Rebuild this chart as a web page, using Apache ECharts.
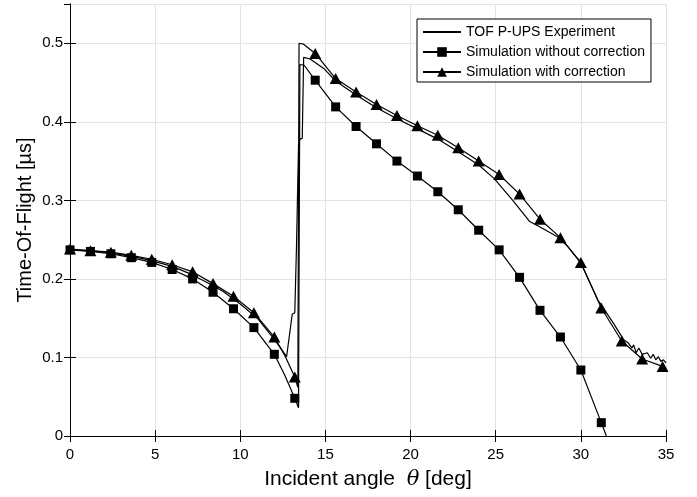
<!DOCTYPE html>
<html>
<head>
<meta charset="utf-8">
<script src="https://cdn.jsdelivr.net/npm/echarts@6/dist/echarts.min.js"></script>
<style>
  html, body { margin: 0; padding: 0; background: #fff; }
  #chart { width: 697px; height: 497px; }
</style>
</head>
<body>
<div id="chart"></div>
<script>
// TOF P-UPS experiment (line only)
const expX = [0, 1, 2, 3, 4, 5, 6, 7, 8, 9, 10, 11, 12, 12.4, 12.72, 13.05, 13.2, 13.3, 13.42, 13.5, 13.64, 13.72,
  14.1, 14.9, 15.6, 16.8, 18, 19.2, 20.4, 21.6, 22.8, 24, 24.9, 26, 27, 27.6, 28.6, 29.2, 30, 31, 31.9, 32.5,
  32.8, 33.0, 33.1, 33.25, 33.4, 33.6, 33.9, 34.1, 34.25, 34.4, 34.55, 34.7, 34.85, 35]
const expY = [0.237, 0.236, 0.234, 0.231, 0.227, 0.222, 0.216, 0.207, 0.196, 0.184, 0.168, 0.150, 0.123, 0.111, 0.101, 0.155, 0.157, 0.241, 0.370, 0.378, 0.379, 0.482,
  0.480, 0.468, 0.452, 0.434, 0.418, 0.404, 0.391, 0.378, 0.362, 0.345, 0.328, 0.300, 0.273, 0.266, 0.254, 0.242, 0.220, 0.173, 0.144, 0.123,
  0.118, 0.112, 0.116, 0.106, 0.112, 0.104, 0.106, 0.099, 0.104, 0.097, 0.101, 0.095, 0.097, 0.093]

// Simulation without correction: marker points and extra curve points
const noCorrMarkX = [0, 1.2, 2.4, 3.6, 4.8, 6.0, 7.2, 8.4, 9.6, 10.8, 12.0, 13.2,
  14.4, 15.6, 16.8, 18.0, 19.2, 20.4, 21.6, 22.8, 24.0, 25.2, 26.4, 27.6, 28.8, 30.0, 31.2]
const noCorrMarkY = [0.237, 0.235, 0.232, 0.227, 0.221, 0.212, 0.200, 0.183, 0.162, 0.138, 0.104, 0.048,
  0.453, 0.419, 0.394, 0.372, 0.350, 0.331, 0.311, 0.288, 0.262, 0.237, 0.202, 0.160, 0.126, 0.084, 0.017]
const noCorrCurveX = [12.6, 13.42, 13.5, 13.75, 31.5]
const noCorrCurveY = [0.078, 0.036, 0.473, 0.472, 0.0]

// Simulation with correction
const withCorrMarkX = [0, 1.2, 2.4, 3.6, 4.8, 6.0, 7.2, 8.4, 9.6, 10.8, 12.0, 13.2,
  14.4, 15.6, 16.8, 18.0, 19.2, 20.4, 21.6, 22.8, 24.0, 25.2, 26.4, 27.6, 28.8, 30.0, 31.2, 32.4, 33.6, 34.8]
const withCorrMarkY = [0.238, 0.236, 0.234, 0.230, 0.225, 0.218, 0.209, 0.194, 0.178, 0.157, 0.126, 0.075,
  0.487, 0.455, 0.438, 0.422, 0.408, 0.395, 0.383, 0.367, 0.350, 0.333, 0.308, 0.276, 0.2525, 0.221, 0.163, 0.121, 0.098, 0.0886]
const withCorrCurveX = [12.6, 13.38, 13.45, 13.7]
const withCorrCurveY = [0.103, 0.062, 0.500, 0.499]

const xTicks = { min: 0, max: 35, interval: 5 }
const yTicks = { min: 0, max: 0.55, interval: 0.1 }

const seriesNames = ['TOF P-UPS Experiment', 'Simulation without correction', 'Simulation with correction']

function buildData(markX, markY, curveX, curveY) {
  const pts = []
  markX.forEach((x, i) => pts.push({ value: [x, markY[i]] }))
  curveX.forEach((x, i) => pts.push({ value: [x, curveY[i]], symbol: 'none' }))
  return pts.sort((a, b) => a.value[0] - b.value[0])
}

const font = 'Liberation Sans, Arial, Helvetica, sans-serif'
const gridColor = '#e3e3e3'

function frameAxis(position, range) {
  return {
    type: 'value',
    position: position,
    min: range.min,
    max: range.max,
    interval: range.interval,
    axisLine: { show: true, lineStyle: { color: '#000', width: 1 } },
    axisTick: { show: true, inside: true, length: 6, lineStyle: { color: '#000' } },
    axisLabel: { show: false },
    splitLine: { show: false }
  }
}

const chart = echarts.init(document.getElementById('chart'), null, { renderer: 'canvas' })

const option = {
  animation: false,
  backgroundColor: '#fff',
  grid: { left: 70, right: 31, top: 4, bottom: 61 },
  legend: {
    orient: 'vertical',
    left: 417,
    top: 19,
    data: [
      // experiment is a plain line: hide the legend marker
      { name: seriesNames[0], itemStyle: { opacity: 0 } },
      seriesNames[1],
      seriesNames[2]
    ],
    itemWidth: 38,
    itemHeight: 12,
    itemGap: 6,
    padding: [6, 6, 3, 5],
    borderColor: '#000',
    borderWidth: 1,
    borderRadius: 0,
    backgroundColor: '#fff',
    textStyle: { fontFamily: font, fontSize: 14, color: '#000' }
  },
  xAxis: [
    {
      type: 'value',
      position: 'bottom',
      min: xTicks.min,
      max: xTicks.max,
      interval: xTicks.interval,
      name: 'Incident angle  {i|θ} [deg]',
      nameLocation: 'middle',
      nameGap: 33,
      nameMoveOverlap: false,
      nameTextStyle: {
        fontFamily: font, fontSize: 21, color: '#000',
        rich: { i: { fontFamily: 'DejaVu Serif, serif', fontStyle: 'italic', fontSize: 21, color: '#000' } }
      },
      axisLine: { show: true, lineStyle: { color: '#000', width: 1 } },
      axisTick: { show: true, inside: true, length: 6, lineStyle: { color: '#000' } },
      axisLabel: { color: '#000', fontFamily: font, fontSize: 15, margin: 11 },
      splitLine: { show: true, lineStyle: { color: gridColor, width: 1 } }
    },
    frameAxis('top', xTicks)
  ],
  yAxis: [
    {
      type: 'value',
      position: 'left',
      min: yTicks.min,
      max: yTicks.max,
      interval: yTicks.interval,
      name: 'Time-Of-Flight [µs]',
      nameLocation: 'middle',
      nameGap: 35,
      nameMoveOverlap: false,
      nameTextStyle: { fontFamily: font, fontSize: 20, color: '#000' },
      axisLine: { show: true, lineStyle: { color: '#000', width: 1 } },
      axisTick: { show: true, inside: true, length: 6, lineStyle: { color: '#000' } },
      axisLabel: { color: '#000', fontFamily: font, fontSize: 15, margin: 7, showMaxLabel: false },
      splitLine: { show: true, lineStyle: { color: gridColor, width: 1 } }
    },
    frameAxis('right', yTicks)
  ],
  series: [
    {
      name: seriesNames[0],
      type: 'line',
      data: expX.map((x, i) => [x, expY[i]]),
      symbol: 'none',
      lineStyle: { color: '#000', width: 1.2 },
      itemStyle: { color: '#000', opacity: 0 },
      emphasis: { disabled: true },
      z: 3
    },
    {
      name: seriesNames[1],
      type: 'line',
      data: buildData(noCorrMarkX, noCorrMarkY, noCorrCurveX, noCorrCurveY),
      symbol: 'rect',
      symbolSize: 9,
      showAllSymbol: true,
      lineStyle: { color: '#000', width: 1.2 },
      itemStyle: { color: '#000', borderWidth: 0 },
      emphasis: { disabled: true },
      z: 4
    },
    {
      name: seriesNames[2],
      type: 'line',
      data: buildData(withCorrMarkX, withCorrMarkY, withCorrCurveX, withCorrCurveY),
      symbol: 'triangle',
      symbolSize: [12, 11],
      showAllSymbol: true,
      lineStyle: { color: '#000', width: 1.2 },
      itemStyle: { color: '#000', borderWidth: 0 },
      emphasis: { disabled: true },
      z: 5
    }
  ]
}

chart.setOption(option)
</script>
</body>
</html>
